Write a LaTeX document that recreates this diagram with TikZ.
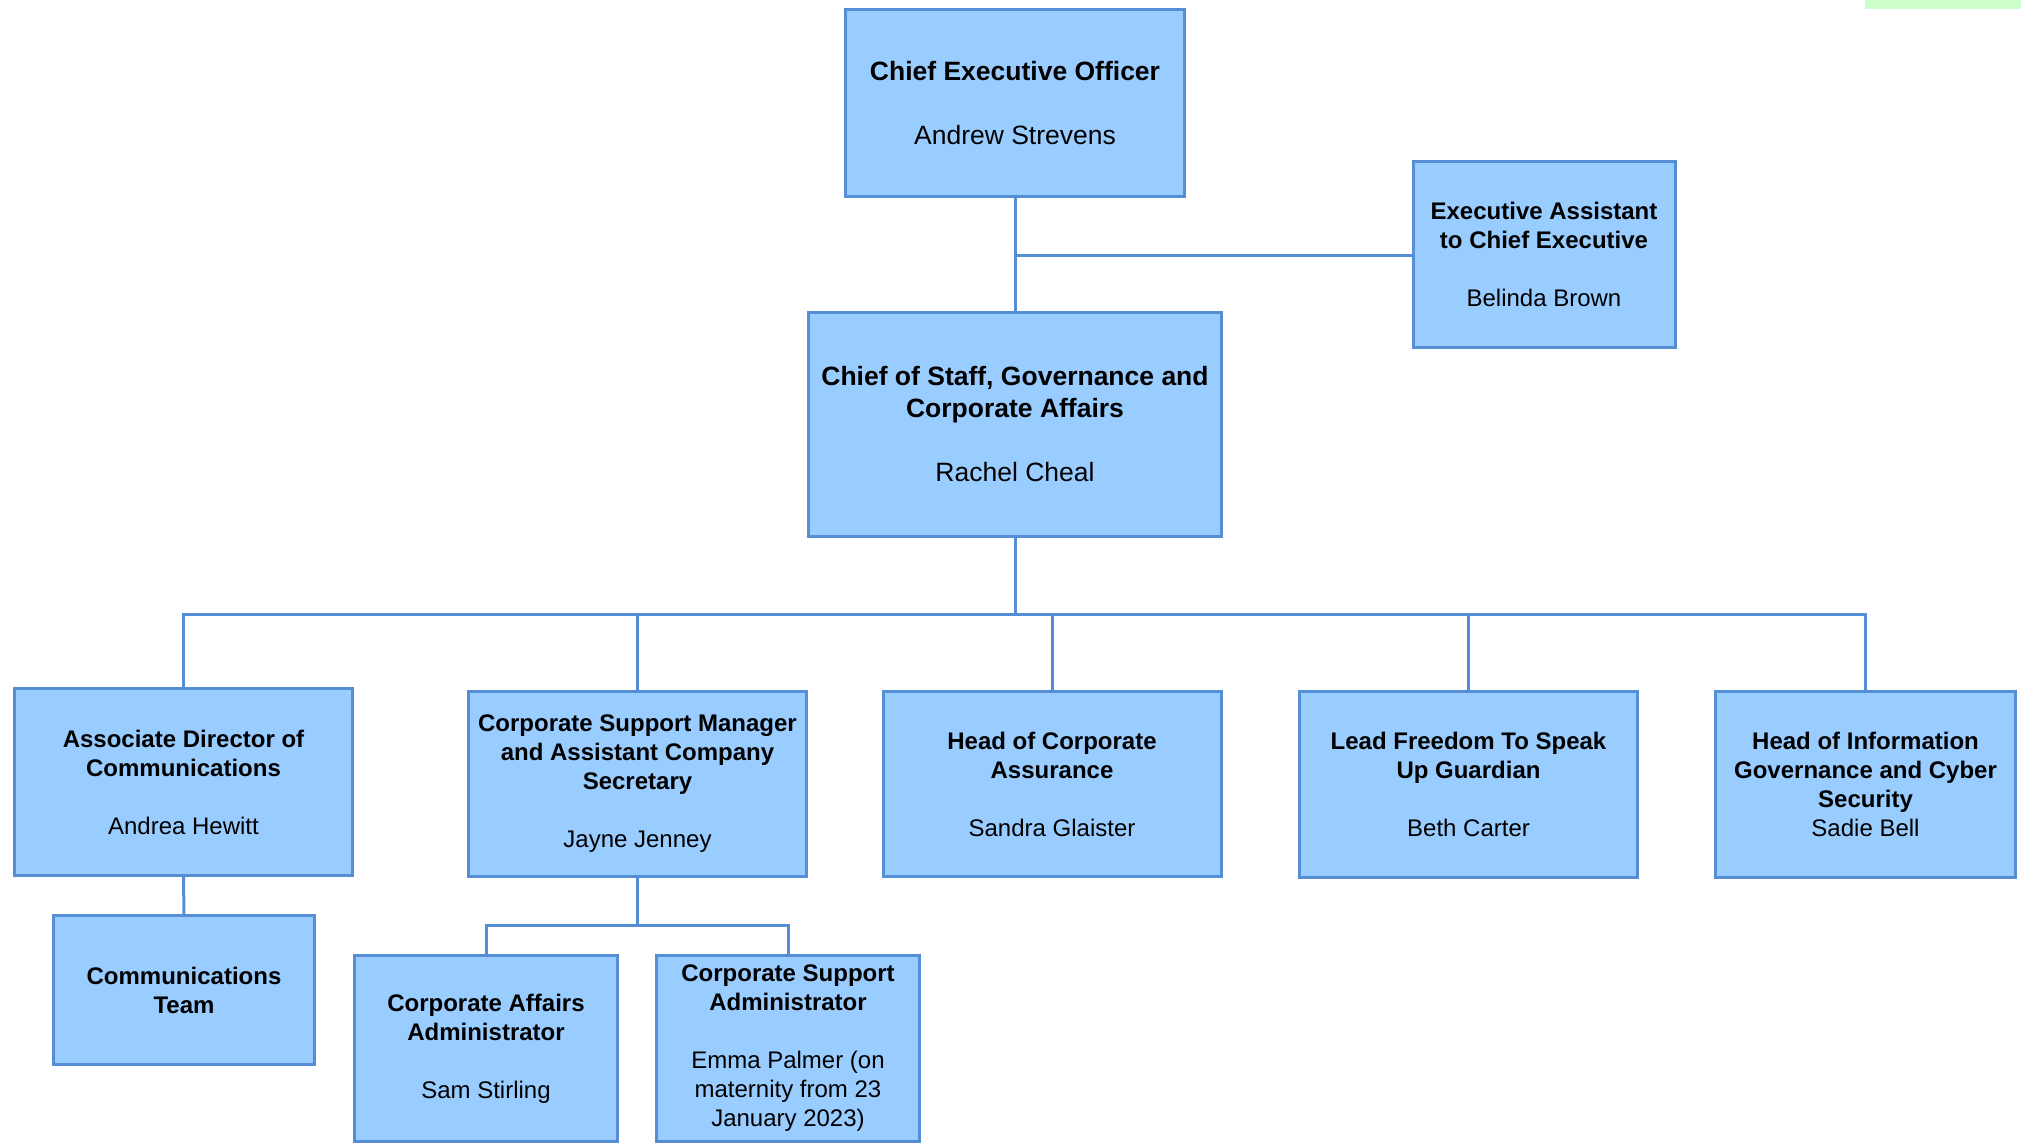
\documentclass[tikz,border=0pt]{standalone}
\usepackage{fontspec}
\setmainfont{Liberation Sans}
\definecolor{boxfill}{HTML}{99CCFF}
\definecolor{boxline}{HTML}{558ED5}
\definecolor{greenbar}{HTML}{CCFFCC}
\begin{document}
\begin{tikzpicture}[x=1pt,y=-1pt,
  orgbox/.style={draw=boxline, fill=boxfill, line width=3pt, align=center,
    inner sep=0pt, outer sep=0pt, rectangle},
  bigtxt/.style={font=\fontsize{26.5}{32}\selectfont},
  smalltxt/.style={font=\fontsize{24}{29}\selectfont},
  conn/.style={draw=boxline, line width=3pt}]
\useasboundingbox (0,0) rectangle (2021,1146);
\fill[greenbar] (1865,0) rectangle (2021,9);

\node[orgbox, bigtxt, minimum width=339pt, minimum height=187pt] (ceo) at (1015,103)
  {\bfseries Chief Executive Officer\\[32pt]Andrew Strevens};
\node[orgbox, smalltxt, minimum width=262pt, minimum height=186pt] (ea) at (1544,254.5)
  {\bfseries Executive Assistant\\\bfseries to Chief Executive\\[29pt]Belinda Brown};
\node[orgbox, bigtxt, minimum width=413pt, minimum height=224pt] (cos) at (1015,424.5)
  {\bfseries Chief of Staff, Governance and\\\bfseries Corporate Affairs\\[32pt]Rachel Cheal};

\node[orgbox, smalltxt, minimum width=338pt, minimum height=187pt] (assoc) at (183.5,782)
  {\bfseries Associate Director of\\\bfseries Communications\\[29pt]Andrea Hewitt};
\node[orgbox, smalltxt, minimum width=338pt, minimum height=185pt] (csm) at (637.5,784)
  {\bfseries Corporate Support Manager\\\bfseries and Assistant Company\\\bfseries Secretary\\[29pt]Jayne Jenney};
\node[orgbox, smalltxt, minimum width=338pt, minimum height=185pt] (hca) at (1052,784)
  {\bfseries Head of Corporate\\\bfseries Assurance\\[29pt]Sandra Glaister};
\node[orgbox, smalltxt, minimum width=338pt, minimum height=186pt] (lfg) at (1468.5,784)
  {\bfseries Lead Freedom To Speak\\\bfseries Up Guardian\\[29pt]Beth Carter};
\node[orgbox, smalltxt, minimum width=300pt, minimum height=186pt] (hig) at (1865.5,784)
  {\bfseries Head of Information\\\bfseries Governance and Cyber\\\bfseries Security\\Sadie Bell};

\node[orgbox, smalltxt, minimum width=261pt, minimum height=149pt] (comm) at (184,990)
  {\bfseries Communications\\\bfseries Team};
\node[orgbox, smalltxt, minimum width=263pt, minimum height=186pt] (caa) at (486,1048.5)
  {\bfseries Corporate Affairs\\\bfseries Administrator\\[29pt]Sam Stirling};
\node[orgbox, smalltxt, minimum width=263pt, minimum height=186pt] (csa) at (788,1048.5)
  {\bfseries Corporate Support\\\bfseries Administrator\\[29pt]Emma Palmer (on\\maternity from 23\\January 2023)};

% connectors
\coordinate (eaj) at (ceo.south |- 0,255);
\coordinate (bus) at (cos.south |- 0,614);
\coordinate (subbus) at (csm.south |- 0,925);
\draw[conn] (ceo.south) -- (cos.north);
\draw[conn] (eaj) -- (ea.west |- eaj);
\draw[conn] (cos.south) -- (bus);
\draw[conn] (assoc.north) -- (assoc.north |- bus) -- (hig.north |- bus) -- (hig.north);
\draw[conn] (csm.north |- bus) -- (csm.north);
\draw[conn] (hca.north |- bus) -- (hca.north);
\draw[conn] (lfg.north |- bus) -- (lfg.north);
\draw[conn] (assoc.south) -- (comm.north);
\draw[conn] (csm.south) -- (subbus);
\draw[conn] (caa.north) -- (caa.north |- subbus) -- (csa.north |- subbus) -- (csa.north);
\end{tikzpicture}
\end{document}
